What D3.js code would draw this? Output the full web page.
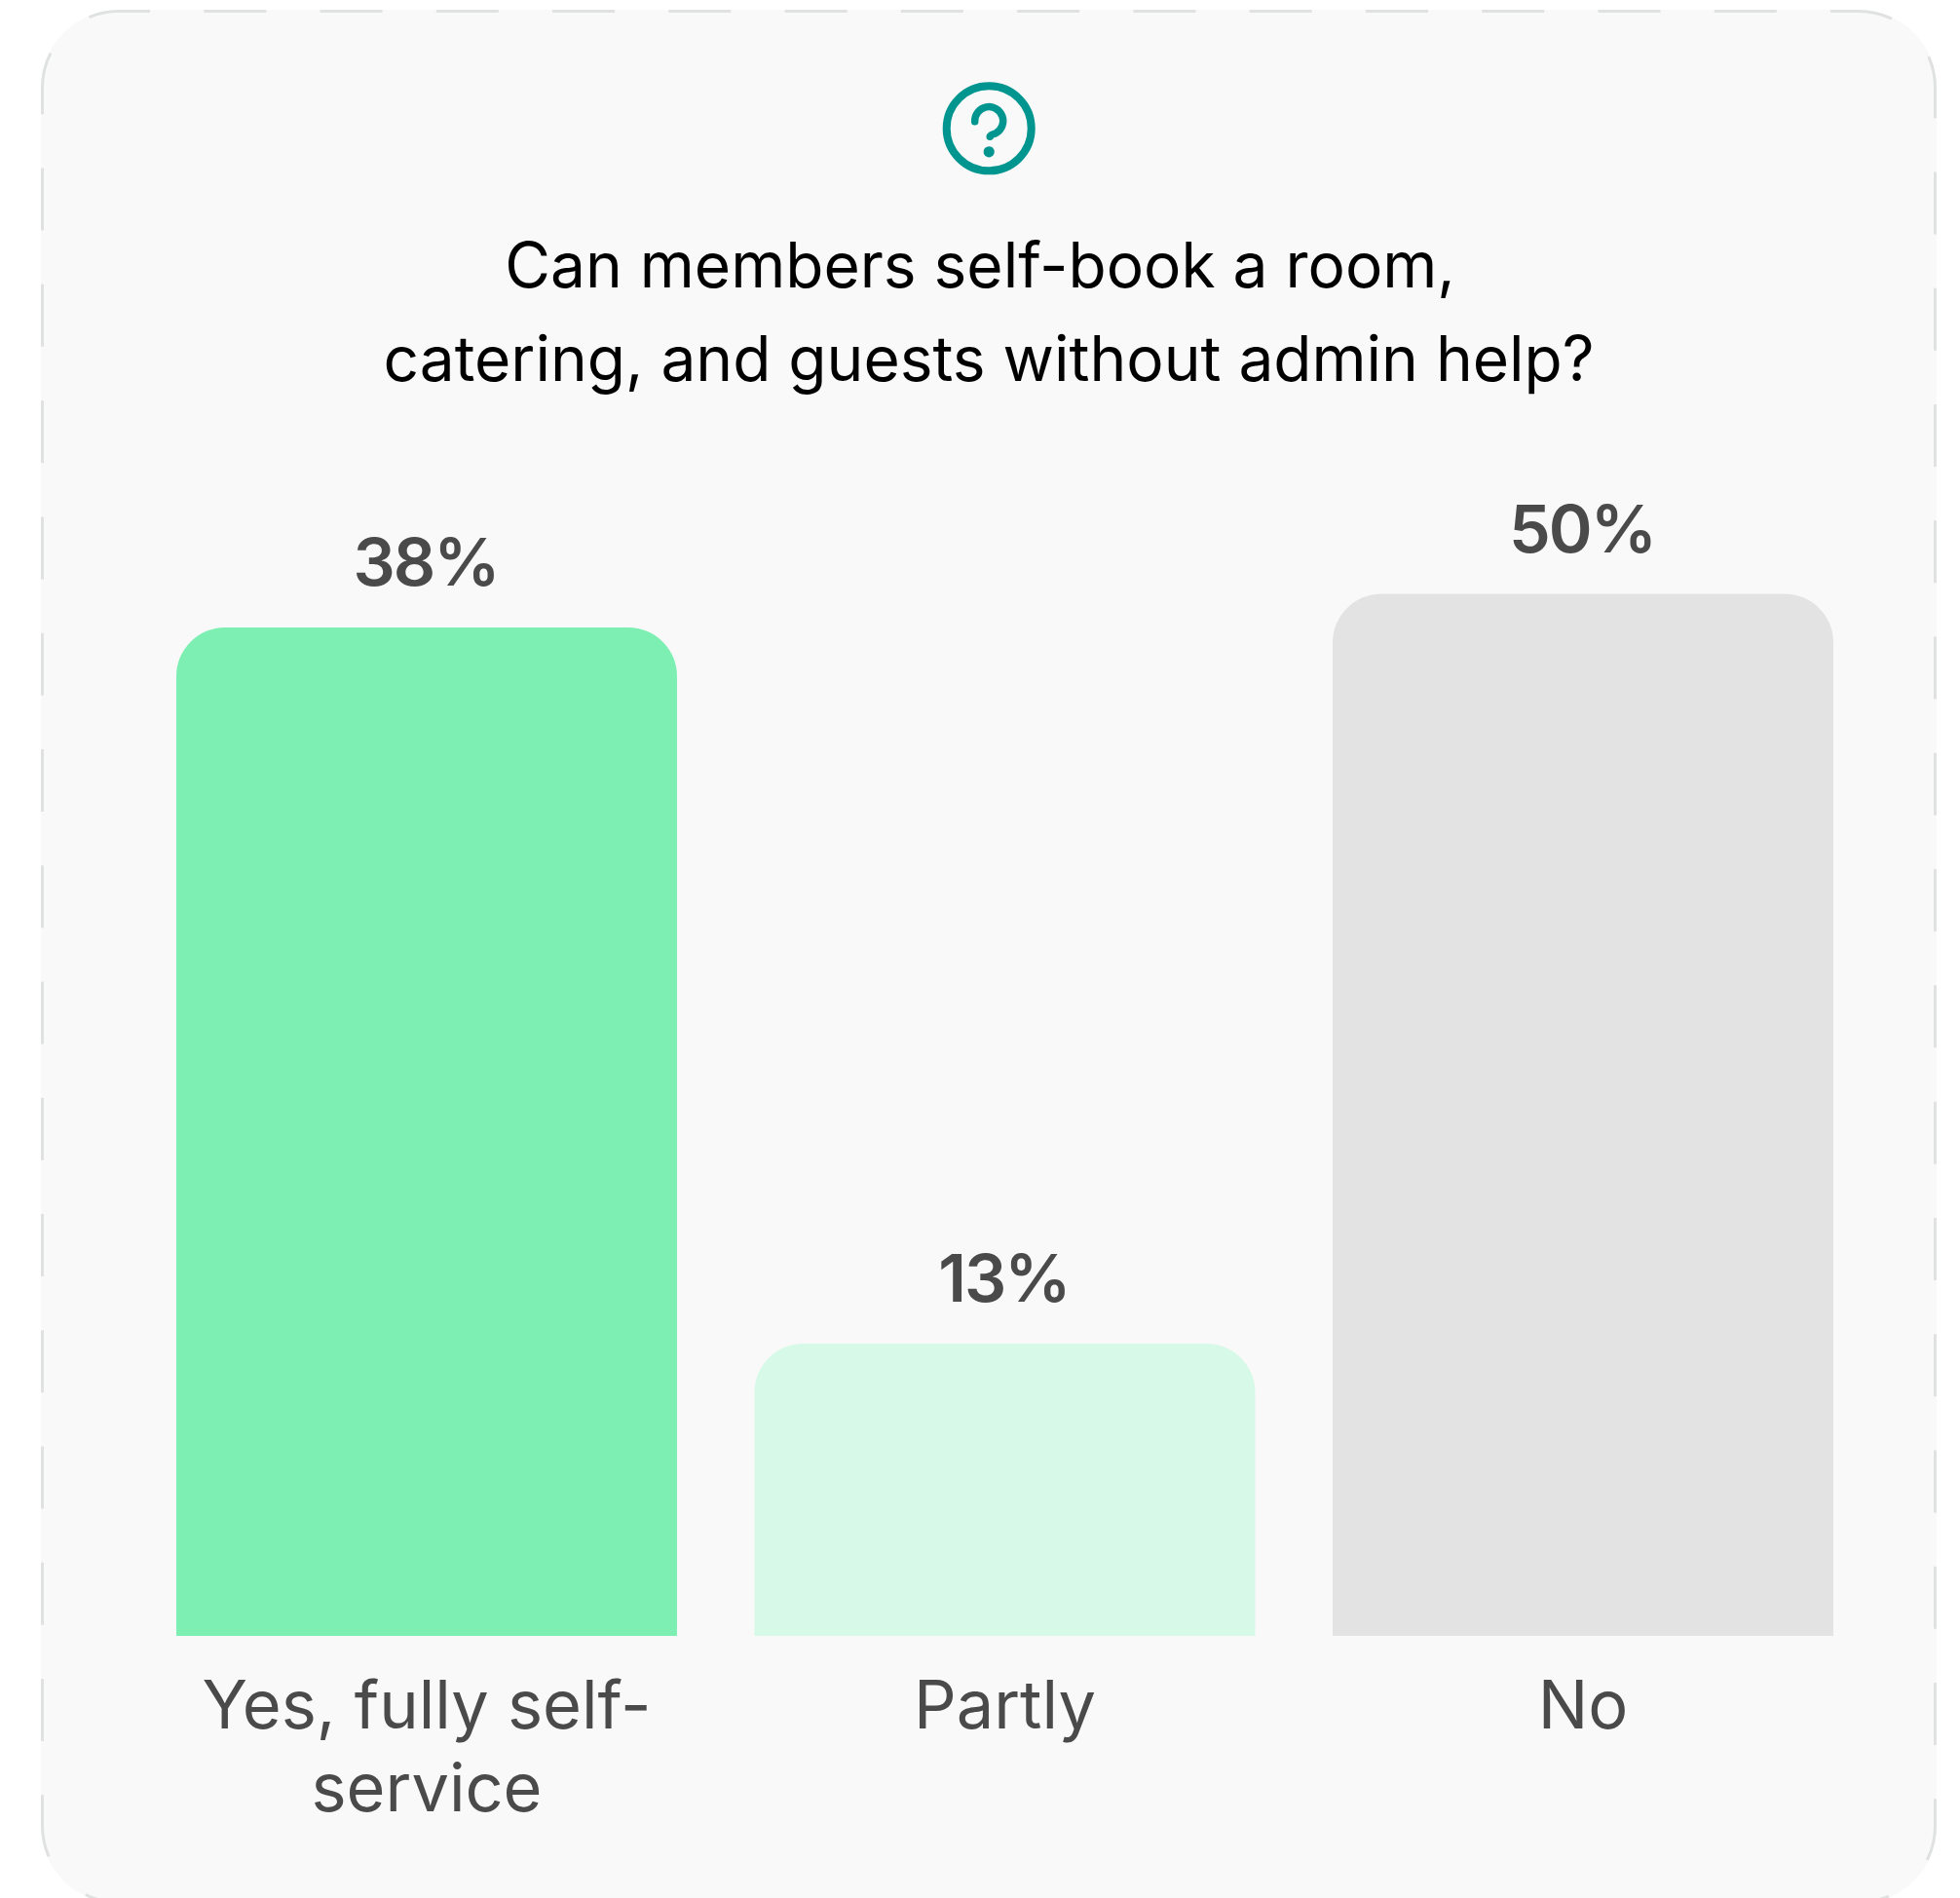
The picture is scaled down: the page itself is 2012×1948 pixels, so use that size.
<!DOCTYPE html>
<html>
<head>
<meta charset="utf-8">
<script src="https://cdn.jsdelivr.net/npm/d3@7/dist/d3.min.js"></script>
<style>
html, body { margin: 0; padding: 0; background: #fff; }
svg { display: block; font-family: Inter, sans-serif; }
.title-line { white-space: pre; }
</style>
</head>
<body>
<div id="chart"></div>
<script>
const categories = ["Yes, fully self-service", "Partly", "No"];
const categoryLines = [["Yes, fully self-", "service"], ["Partly"], ["No"]];
const shares = [38, 13, 50];
const barColors = ["#7EEFB2", "#D7F9E8", "#E3E3E3"];
// A wrapped line keeps its trailing space, which counts towards centring.
const titleLines = ["Can members self-book a room, ", "catering, and guests without admin help?"];

// The bar heights do not follow a straight line through zero, so the scale
// carries one segment for each answer share.
const scaleStops = [0, 13, 38, 50];
const scaleOutput = [1679, 1379, 644, 609.5];

const width = 2012, height = 1948;
const svg = d3.select("#chart").append("svg")
  .attr("width", width).attr("height", height).attr("viewBox", [0, 0, width, height]);

// Card with a dashed outline
const card = { x: 42, y: 10, w: 1946, h: 1944, r: 80 };
svg.append("rect")
  .attr("x", card.x).attr("y", card.y).attr("width", card.w).attr("height", card.h)
  .attr("rx", card.r).attr("fill", "#F9F9F9");

const inset = 1.5;
const outline = d3.path();
{
  const l = card.x + inset, t = card.y + inset;
  const r = card.x + card.w - inset, b = card.y + card.h - inset;
  const c = card.r - inset;
  outline.moveTo(l + c, t);
  outline.lineTo(r - c, t);
  outline.arcTo(r, t, r, t + c, c);
  outline.lineTo(r, b - c);
  outline.arcTo(r, b, r - c, b, c);
  outline.lineTo(l + c, b);
  outline.arcTo(l, b, l, b - c, c);
  outline.lineTo(l, t + c);
  outline.arcTo(l, t, l + c, t, c);
}
svg.append("path")
  .attr("d", outline.toString())
  .attr("fill", "none")
  .attr("stroke", "#DFE2E1")
  .attr("stroke-width", 3)
  .attr("stroke-dasharray", "64 55.27")
  .attr("stroke-dashoffset", 32);

// Question mark icon
const icon = svg.append("g").attr("transform", "translate(1015.2,131.8)")
  .attr("fill", "none").attr("stroke", "#00958F").attr("stroke-linecap", "round");
icon.append("circle").attr("r", 43.5).attr("stroke-width", 8);
icon.append("path").attr("stroke-width", 7.5)
  .attr("d", "M-14.5,-7 A14.5,14.5 0 1 1 7,5 Q1,6.5 1,8.5");
icon.append("circle").attr("cy", 24).attr("r", 5.6).attr("fill", "#00958F").attr("stroke", "none");

// Title
svg.append("g").selectAll("text").data(titleLines).join("text")
  .attr("class", "title-line")
  .attr("x", 1015)
  .attr("y", (d, i) => 295 + i * 96)
  .attr("text-anchor", "middle")
  .attr("font-size", 64)
  .attr("font-weight", 400)
  .attr("fill", "#000")
  .text(d => d);

// Bars
const x = d3.scaleBand().domain(categories).range([181, 1882]).paddingInner(0.134).paddingOuter(0);
const y = d3.scaleLinear().domain(scaleStops).range(scaleOutput);
const radius = 50;
const barPath = (c, v) => {
  const p = d3.path();
  const x0 = x(c), x1 = x0 + x.bandwidth(), y0 = y(0), y1 = y(v);
  p.moveTo(x0, y0);
  p.lineTo(x0, y1 + radius);
  p.arcTo(x0, y1, x0 + radius, y1, radius);
  p.lineTo(x1 - radius, y1);
  p.arcTo(x1, y1, x1, y1 + radius, radius);
  p.lineTo(x1, y0);
  p.closePath();
  return p.toString();
};
svg.append("g").selectAll("path").data(categories).join("path")
  .attr("d", (c, i) => barPath(c, shares[i]))
  .attr("fill", (c, i) => barColors[i]);

// Value labels above the bars
svg.append("g").selectAll("text").data(categories).join("text")
  .attr("x", c => x(c) + x.bandwidth() / 2 - 1)
  .attr("y", (c, i) => y(shares[i]) - 43)
  .attr("text-anchor", "middle")
  .attr("font-size", 68)
  .attr("font-weight", 600)
  .attr("letter-spacing", "-2px")
  .attr("fill", "#4A4A4A")
  .text((c, i) => shares[i] + "%");

// Category labels below the baseline
const labels = svg.append("g").selectAll("g").data(categories).join("g")
  .attr("transform", c => `translate(${x(c) + x.bandwidth() / 2},0)`);
labels.selectAll("text").data((c, i) => categoryLines[i]).join("text")
  .attr("y", (d, i) => 1774 + i * 85)
  .attr("text-anchor", "middle")
  .attr("font-size", 68.5)
  .attr("font-weight", 400)
  .attr("fill", "#4A4A4A")
  .text(d => d);
</script>
</body>
</html>
